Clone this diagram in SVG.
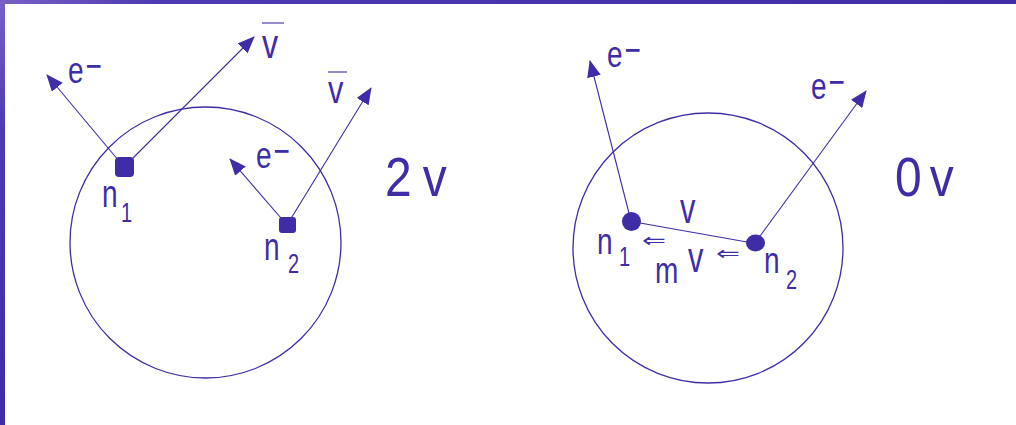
<svg xmlns="http://www.w3.org/2000/svg" width="1016" height="425" viewBox="0 0 1016 425">
<defs>
<linearGradient id="bt" x1="0" y1="0" x2="1" y2="0"><stop offset="0" stop-color="#7A60C8"/><stop offset="0.15" stop-color="#4E3AB2"/><stop offset="1" stop-color="#3E2DA6"/></linearGradient>
<linearGradient id="bl" x1="0" y1="0" x2="0" y2="1"><stop offset="0" stop-color="#7A60C8"/><stop offset="0.3" stop-color="#4E3AB2"/><stop offset="1" stop-color="#3E2DA6"/></linearGradient>
<marker id="ah" markerUnits="userSpaceOnUse" markerWidth="20" markerHeight="16" refX="16" refY="7" orient="auto"><path d="M0,0 L17,7 L0,14 z" fill="#3E2DA6"/></marker>
</defs>
<style>
.c{fill:none;stroke:#3E2DA6;stroke-width:1.3}
.l{fill:none;stroke:#3E2DA6;stroke-width:1.1}
.d{fill:#3E2DA6}
.t{font-family:"Liberation Sans",Arial,sans-serif;font-size:28px;fill:#3E2DA6}
.s{font-family:"Liberation Sans",Arial,sans-serif;font-size:20px;fill:#3E2DA6}
.b{font-family:"Liberation Sans",Arial,sans-serif;font-size:48px;fill:#3E2DA6}
.a{font-family:"DejaVu Sans",sans-serif;font-size:26px;fill:#3E2DA6}
</style>
<rect x="0" y="0" width="1016" height="425" fill="#FFFFFF"/>
<rect x="0" y="0" width="1016" height="4" fill="url(#bt)"/>
<rect x="0" y="0" width="5" height="425" fill="url(#bl)"/>

<g id="connectors">
<line class="l" x1="124" y1="167" x2="47" y2="75" marker-end="url(#ah)"/>
<line class="l" x1="124" y1="167" x2="254" y2="37" marker-end="url(#ah)"/>
<line class="l" x1="287" y1="225" x2="230" y2="159" marker-end="url(#ah)"/>
<line class="l" x1="287" y1="225" x2="371" y2="88" marker-end="url(#ah)"/>
<line class="l" x1="631" y1="221" x2="590" y2="61" marker-end="url(#ah)"/>
<line class="l" x1="755" y1="243" x2="866" y2="91" marker-end="url(#ah)"/>
<line class="l" x1="640" y1="223" x2="747" y2="242"/>
</g>

<g id="left-nucleus"><circle class="c" cx="205.5" cy="242.5" r="135.5"/></g>
<g id="right-nucleus"><circle class="c" cx="708" cy="248" r="135"/></g>

<g id="left-n1">
<rect class="d" x="115" y="157" width="19" height="20" rx="4"/>
<text class="t" transform="translate(102,207) scale(1,1.4)">n</text>
<text class="s" transform="translate(121,222) scale(1,1.35)">1</text>
</g>
<g id="left-n2">
<rect class="d" x="279" y="217" width="17" height="16" rx="3"/>
<text class="t" transform="translate(264,260) scale(1,1.4)">n</text>
<text class="s" transform="translate(288,273) scale(1,1.35)">2</text>
</g>
<g id="left-e1"><text class="t" transform="translate(68,83) scale(1,1.35)">e<tspan dx="2" dy="-3">−</tspan></text></g>
<g id="left-nubar1">
<text class="t" transform="translate(262,58) scale(1.15,1.45)">v</text>
<line class="l" x1="262" y1="23" x2="284" y2="23" stroke-width="1.5"/>
</g>
<g id="left-e2"><text class="t" transform="translate(256,168) scale(1,1.35)">e<tspan dx="2" dy="-3">−</tspan></text></g>
<g id="left-nubar2">
<text class="t" transform="translate(328,103) scale(1.1,1.4)">v</text>
<line class="l" x1="328" y1="72" x2="347" y2="72" stroke-width="1.5"/>
</g>
<g id="label-2v"><text class="b" transform="translate(385,196) scale(1,1.15)">2<tspan dx="11">v</tspan></text></g>

<g id="right-n1">
<circle class="d" cx="631.5" cy="221.5" r="9.5"/>
<text class="t" transform="translate(597,254) scale(1,1.35)">n</text>
<text class="s" transform="translate(619,266) scale(1,1.35)">1</text>
</g>
<g id="right-n2">
<ellipse class="d" cx="755.5" cy="243" rx="9.5" ry="8.5"/>
<text class="t" transform="translate(764,273) scale(1,1.35)">n</text>
<text class="s" transform="translate(786,289) scale(1,1.35)">2</text>
</g>
<g id="right-e1"><text class="t" transform="translate(607,67) scale(1,1.35)">e<tspan dx="2" dy="-3">−</tspan></text></g>
<g id="right-e2"><text class="t" transform="translate(811,99) scale(1,1.35)">e<tspan dx="2" dy="-3">−</tspan></text></g>
<g id="label-nu"><text class="t" transform="translate(680,223) scale(1.1,1.5)">v</text></g>
<g id="label-mv">
<text class="t" transform="translate(655,283) scale(1,1.35)">m</text>
<text class="t" transform="translate(688,272) scale(1.1,1.5)">v</text>
</g>
<g id="hel1"><text class="a" transform="translate(642,247) scale(1.1,0.75)">⇐</text></g>
<g id="hel2"><text class="a" transform="translate(716,260) scale(1.1,0.75)">⇐</text></g>
<g id="label-0v"><text class="b" transform="translate(895,196) scale(1,1.15)">0<tspan dx="8">v</tspan></text></g>
</svg>
